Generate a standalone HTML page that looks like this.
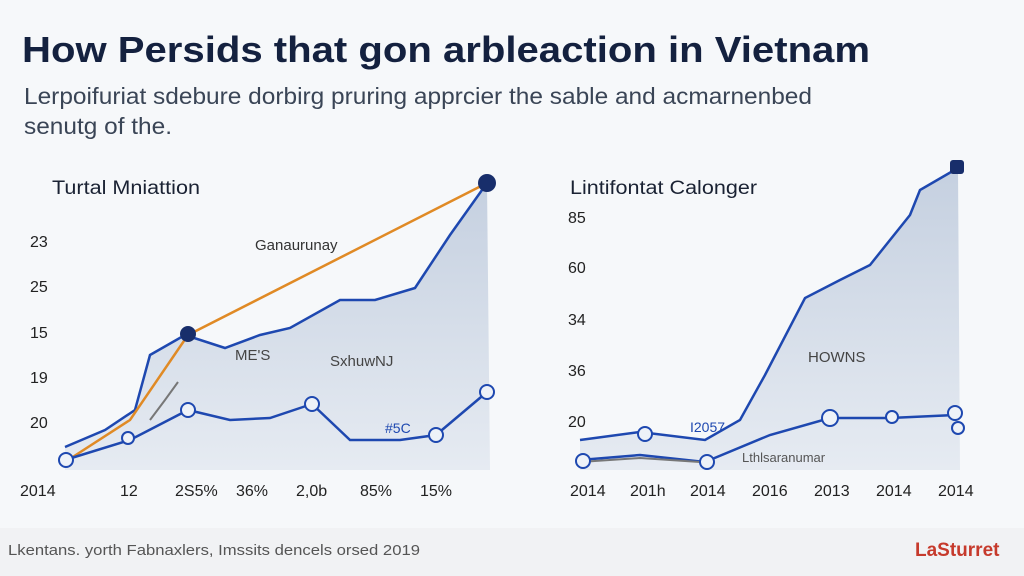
<!DOCTYPE html>
<html><head><meta charset="utf-8"><style>
html,body{margin:0;padding:0;width:1024px;height:576px;overflow:hidden;background:#f6f8fa;font-family:"Liberation Sans",sans-serif;}
</style></head><body>
<svg width="1024" height="576" xmlns="http://www.w3.org/2000/svg" font-family="Liberation Sans, sans-serif">
<defs>
<linearGradient id="g" x1="0" y1="0" x2="0" y2="1"><stop offset="0" stop-color="#c5d0e0"/><stop offset="1" stop-color="#e6ebf2"/></linearGradient>
</defs>
<rect width="1024" height="576" fill="#f6f8fa"/>
<text x="22" y="62" font-size="36" font-weight="bold" fill="#14213f" textLength="848" lengthAdjust="spacingAndGlyphs">How Persids that gon arbleaction in Vietnam</text>
<text x="24" y="104" font-size="23" fill="#3a4556" textLength="788" lengthAdjust="spacingAndGlyphs">Lerpoifuriat sdebure dorbirg pruring apprcier the sable and acmarnenbed</text>
<text x="24" y="134" font-size="23" fill="#3a4556" textLength="148" lengthAdjust="spacingAndGlyphs">senutg of the.</text>

<text x="52" y="194" font-size="19" fill="#1a2233" textLength="148" lengthAdjust="spacingAndGlyphs">Turtal Mniattion</text>
<g font-size="16" fill="#222">
<text x="30" y="247">23</text><text x="30" y="292">25</text><text x="30" y="338">15</text><text x="30" y="383">19</text><text x="30" y="428">20</text>
<text x="20" y="496">2014</text><text x="120" y="496">12</text><text x="175" y="496">2S5%</text><text x="236" y="496">36%</text><text x="296" y="496">2,0b</text><text x="360" y="496">85%</text><text x="420" y="496">15%</text>
</g>
<path d="M65,447 L105,430 L135,410 L150,355 L185,335 L225,348 L260,335 L290,328 L340,300 L375,300 L415,288 L450,235 L487,183 L490,470 L65,470 Z" fill="url(#g)"/>
<polyline points="65,447 105,430 135,410 150,355 185,335 225,348 260,335 290,328 340,300 375,300 415,288 450,235 487,183" fill="none" stroke="#1e48b0" stroke-width="2.5"/>
<polyline points="65,462 130,420 188,335 487,183" fill="none" stroke="#e08a25" stroke-width="2.5"/>
<polyline points="65,460 130,440 188,410 230,420 270,418 312,404 350,440 400,440 436,435 487,392" fill="none" stroke="#1e48b0" stroke-width="2.5"/>
<polyline points="150,420 165,400 178,382" fill="none" stroke="#777" stroke-width="2"/>
<g fill="#eef2f8" stroke="#1e48b0" stroke-width="2">
<circle cx="66" cy="460" r="7"/><circle cx="188" cy="410" r="7"/><circle cx="312" cy="404" r="7"/><circle cx="436" cy="435" r="7"/><circle cx="487" cy="392" r="7"/><circle cx="128" cy="438" r="6"/>
</g>
<circle cx="188" cy="334" r="8" fill="#182e6b"/>
<circle cx="487" cy="183" r="9" fill="#182e6b"/>
<text x="255" y="250" font-size="15" fill="#333">Ganaurunay</text>
<text x="235" y="360" font-size="15" fill="#444">ME'S</text>
<text x="330" y="366" font-size="15" fill="#444">SxhuwNJ</text>
<text x="385" y="433" font-size="14" fill="#1e48b0">#5C</text>

<text x="570" y="194" font-size="19" fill="#1a2233" textLength="187" lengthAdjust="spacingAndGlyphs">Lintifontat Calonger</text>
<g font-size="16" fill="#222">
<text x="568" y="223">85</text><text x="568" y="273">60</text><text x="568" y="325">34</text><text x="568" y="376">36</text><text x="568" y="427">20</text>
<text x="570" y="496">2014</text><text x="630" y="496">201h</text><text x="690" y="496">2014</text><text x="752" y="496">2016</text><text x="814" y="496">2013</text><text x="876" y="496">2014</text><text x="938" y="496">2014</text>
</g>
<path d="M580,440 L640,432 L705,440 L740,420 L765,375 L805,298 L840,280 L870,265 L910,215 L920,190 L958,168 L960,470 L580,470 Z" fill="url(#g)"/>
<polyline points="580,440 640,432 705,440 740,420 765,375 805,298 840,280 870,265 910,215 920,190 958,168" fill="none" stroke="#1e48b0" stroke-width="2.5"/>
<polyline points="580,460 640,455 705,462 770,435 830,418 890,418 955,415" fill="none" stroke="#1e48b0" stroke-width="2.5"/>
<polyline points="580,462 640,458 700,462" fill="none" stroke="#777" stroke-width="2"/>
<g fill="#eef2f8" stroke="#1e48b0" stroke-width="2">
<circle cx="583" cy="461" r="7"/><circle cx="645" cy="434" r="7"/><circle cx="707" cy="462" r="7"/><circle cx="830" cy="418" r="8"/><circle cx="892" cy="417" r="6"/><circle cx="955" cy="413" r="7"/><circle cx="958" cy="428" r="6"/>
</g>
<rect x="950" y="160" width="14" height="14" rx="3" fill="#182e6b"/>
<text x="808" y="362" font-size="15" fill="#444">HOWNS</text>
<text x="690" y="432" font-size="14" fill="#1e48b0">I2057</text>
<text x="742" y="462" font-size="13" fill="#555">Lthlsaranumar</text>

<rect x="0" y="528" width="1024" height="48" fill="#f1f2f4"/>
<text x="8" y="555" font-size="15" fill="#555" textLength="412" lengthAdjust="spacingAndGlyphs">Lkentans. yorth Fabnaxlers, Imssits dencels orsed 2019</text>
<text x="915" y="556" font-size="19" font-weight="bold" fill="#c63a2c">LaSturret</text>
</svg>
</body></html>
